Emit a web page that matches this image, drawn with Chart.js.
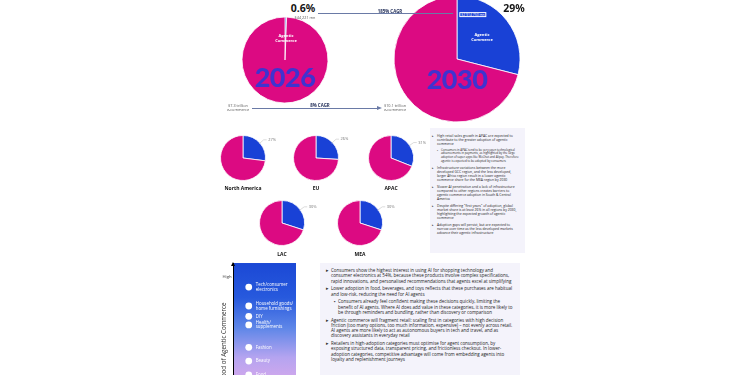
<!DOCTYPE html>
<html>
<head>
<meta charset="utf-8">
<script src="https://cdn.jsdelivr.net/npm/chart.js@4.4.1/dist/chart.umd.min.js"></script>
<style>
  html, body { margin: 0; padding: 0; width: 750px; height: 375px; overflow: hidden; background: #fff; font-family: "Open Sans", sans-serif; }
  canvas { position: absolute; }
  .t { position: absolute; white-space: nowrap; transform: translate(-50%, -50%); text-align: center; }
  .pct { font-family: "Noto Sans"; font-weight: 700; font-size: 10.5px; line-height: 10px; color: #151515; }
  .year { font-family: Lato; font-weight: 900; font-size: 27px; color: rgba(45, 55, 215, 0.9); letter-spacing: -0.5px; }
  .inpie { color: #fff; font-weight: 700; font-size: 4px; line-height: 4.6px; }
  .small { color: #555; font-size: 3.8px; line-height: 4.2px; }
  .cagr { font-weight: 700; font-size: 4.4px; color: #1d2a55; }
  .region { font-weight: 700; font-size: 5px; color: #111; }
  .line { position: absolute; height: 1.4px; background: #6a7aa6; }
  .panel { position: absolute; background: #f4f3fb; box-sizing: border-box; color: #222; }
  .panel div { position: relative; }
  .panel .b::before { content: "\25B8"; position: absolute; left: -5px; color: #333; }
  .panel .s::before { content: "\25AA"; position: absolute; left: -4px; color: #333; }
  #side { left: 430px; top: 128px; width: 95px; height: 125px; padding: 6px 4px 0 7px; font-size: 3.4px; line-height: 4.1px; }
  #side .b { margin-bottom: 2.6px; }
  #side .s { margin-left: 4px; font-size: 2.9px; line-height: 3.6px; margin-bottom: 2.6px; }
  #notes { left: 320px; top: 263px; width: 200px; height: 130px; padding: 5px 5px 0 11px; font-size: 4.5px; line-height: 5.3px; }
  #notes .b { margin-bottom: 2.4px; }
  #notes .s { margin-left: 7px; margin-bottom: 2.4px; }
  .box { position: absolute; border: 0.6px solid #fff; color: #fff; font-size: 3.4px; line-height: 3.8px; padding: 0 1px; transform: translate(-50%, -50%); white-space: nowrap; }
</style>
</head>
<body>

<canvas id="pie2026" width="90" height="90" style="left:240px; top:15px;"></canvas>
<canvas id="pie2030" width="130" height="130" style="left:392px; top:-6px;"></canvas>

<canvas id="pieNA" width="78" height="48" style="left:219px; top:134px;"></canvas>
<canvas id="pieEU" width="78" height="48" style="left:292px; top:134px;"></canvas>
<canvas id="pieAPAC" width="78" height="48" style="left:367px; top:134px;"></canvas>
<canvas id="pieLAC" width="78" height="48" style="left:258px; top:199px;"></canvas>
<canvas id="pieMEA" width="78" height="48" style="left:336px; top:199px;"></canvas>

<canvas id="likelihood" width="79" height="180" style="left:221px; top:259px;"></canvas>

<!-- top headline labels -->
<div class="t pct" style="left:303px; top:7.5px;">0.6%</div>
<div class="t pct" style="left:514px; top:7.5px;">29%</div>
<div class="t small" style="left:305px; top:17.5px;">$44,221 mn</div>
<div class="line" style="left:318px; top:13px; width:135px;"></div>
<div class="t cagr" style="left:390px; top:10.5px;">185% CAGR</div>
<div class="box" style="left:473px; top:14.5px; background:#1941d6;">$2,914,750 mn</div>

<div class="t inpie" style="left:286px; top:39px;">Agentic<br>Commerce</div>
<div class="t inpie" style="left:482px; top:38px;">Agentic<br>Commerce</div>
<div class="t year" style="left:285px; top:76px;">2026</div>
<div class="t year" style="left:457px; top:78px;">2030</div>

<div class="t small" style="left:238px; top:108px;">$7.3 trillion<br>e-commerce</div>
<div class="line" style="left:252px; top:107.5px; width:126px;"></div>
<div style="position:absolute; left:377px; top:105.5px; width:0; height:0; border-top:2.6px solid transparent; border-bottom:2.6px solid transparent; border-left:5px solid #6a7aa6;"></div>
<div class="t cagr" style="left:320px; top:104.5px;">8% CAGR</div>
<div class="t small" style="left:395px; top:108px;">$10.1 trillion<br>e-commerce</div>

<div class="t region" style="left:243px; top:188px;">North America</div>
<div class="t region" style="left:316px; top:188px;">EU</div>
<div class="t region" style="left:391px; top:188px;">APAC</div>
<div class="t region" style="left:282px; top:254px;">LAC</div>
<div class="t region" style="left:360px; top:254px;">MEA</div>

<div class="panel" id="side">
  <div class="b">High retail sales growth in APAC are expected to contribute to the greater adoption of agentic commerce</div>
  <div class="s">Consumers in APAC tend to be very open technological advancements in payments, as highlighted by the large adoption of super apps like WeChat and Alipay. Therefore agentic is expected to be adopted by consumers</div>
  <div class="b">Infrastructure variations between the more developed GCC region, and the less developed, larger Africa region result in a lower agentic commerce share for the MEA region by 2030</div>
  <div class="b">Slower AI penetration and a lack of infrastructure compared to other regions creates barriers to agentic commerce adoption in South &amp; Central America</div>
  <div class="b">Despite differing "first years" of adoption, global market share is at least 26% in all regions by 2030, highlighting the expected growth of agentic commerce</div>
  <div class="b">Adoption gaps will persist, but are expected to narrow over time as the less developed markets advance their agentic infrastructure</div>
</div>

<div class="panel" id="notes">
  <div class="b">Consumers show the highest interest in using AI for shopping technology and consumer electronics at 54%, because these products involve complex specifications, rapid innovations, and personalised recommendations that agents excel at simplifying</div>
  <div class="b">Lower adoption in food, beverages, and toys reflects that these purchases are habitual and low-risk, reducing the need for AI agents</div>
  <div class="s">Consumers already feel confident making these decisions quickly, limiting the benefit of AI agents. Where AI does add value in these categories, it is more likely to be through reminders and bundling, rather than discovery or comparison</div>
  <div class="b">Agentic commerce will fragment retail: scaling first in categories with high decision friction (too many options, too much information, expensive) – not evenly across retail. AI agents are more likely to act as autonomous buyers in tech and travel, and as discovery assistants in everyday retail</div>
  <div class="b">Retailers in high-adoption categories must optimise for agent consumption, by exposing structured data, transparent pricing, and frictionless checkout. In lower-adoption categories, competitive advantage will come from embedding agents into loyalty and replenishment journeys</div>
</div>

<script>
document.addEventListener("DOMContentLoaded", function () {
    const blue = "#1941d6";
    const pink = "#dc0a82";

    // agentic commerce share of e-commerce (%)
    const years = ["2026", "2030"];
    const globalShare = [0.6, 29];

    // regional share by 2030 (%)
    const regions = ["North America", "EU", "APAC", "LAC", "MEA"];
    const regionShare = [27, 26, 31, 30, 30];
    const regionCanvas = ["pieNA", "pieEU", "pieAPAC", "pieLAC", "pieMEA"];

    // likelihood of agentic commerce by category (relative score, 0-100)
    const categories = [
        ["Tech/consumer", "electronics"],
        ["Household goods/", "home furnishings"],
        ["DIY"],
        ["Health/", "supplements"],
        ["Fashion"],
        ["Beauty"],
        ["Food"]
    ];
    const likelihood = [86, 75, 69, 64, 51, 43, 35];

    // percentage label with a short leader line off the agentic slice
    const sliceLabel = {
        id: "sliceLabel",
        afterDraw(chart) {
            const arc = chart.getDatasetMeta(0).data[0];
            const ctx = chart.ctx;
            const mid = (arc.startAngle + arc.endAngle) / 2;
            const x0 = arc.x + Math.cos(mid) * (arc.outerRadius - 1);
            const y0 = arc.y + Math.sin(mid) * (arc.outerRadius - 1);
            const x1 = x0 + Math.cos(mid) * 6;
            const y1 = y0 + Math.sin(mid) * 6;
            ctx.save();
            ctx.strokeStyle = "#c4c4c4";
            ctx.lineWidth = 0.6;
            ctx.beginPath();
            ctx.moveTo(x0, y0);
            ctx.lineTo(x1, y1);
            ctx.lineTo(x1 + 3, y1);
            ctx.stroke();
            ctx.fillStyle = "#777";
            ctx.font = "4px 'Open Sans'";
            ctx.textBaseline = "middle";
            ctx.fillText(chart.data.datasets[0].data[0] + "%", x1 + 4.5, y1);
            ctx.restore();
        }
    };

    function makePie(id, share, radius, padRight, extra) {
        return new Chart(document.getElementById(id), {
            type: "pie",
            data: {
                labels: ["Agentic commerce", "Other e-commerce"],
                datasets: [{
                    data: [share, +(100 - share).toFixed(1)],
                    backgroundColor: [blue, pink],
                    borderColor: "#ffffff",
                    borderWidth: 0.8,
                    radius: radius
                }]
            },
            options: {
                responsive: false,
                animation: false,
                layout: { padding: { right: padRight } },
                plugins: { legend: { display: false }, tooltip: { enabled: false } }
            },
            plugins: extra
        });
    }

    makePie("pie2026", globalShare[0], 43, 0, []);
    makePie("pie2030", globalShare[1], 63, 0, []);
    regions.forEach((r, i) => makePie(regionCanvas[i], regionShare[i], 22.5, 30, [sliceLabel]));

    // gradient band behind the category dots
    const bandFill = {
        id: "bandFill",
        beforeDraw(chart) {
            const { ctx, chartArea: a } = chart;
            const g = ctx.createLinearGradient(0, a.top, 0, a.bottom);
            g.addColorStop(0, "#1b48d5");
            g.addColorStop(0.2, "#2759dd");
            g.addColorStop(0.38, "#5f87e8");
            g.addColorStop(0.55, "#b5a4f0");
            g.addColorStop(0.68, "#d2a8ec");
            g.addColorStop(1, "#eab6e0");
            ctx.save();
            ctx.fillStyle = g;
            ctx.fillRect(a.left, a.top, a.right - a.left, a.bottom - a.top);
            ctx.restore();
        },
        afterDraw(chart) {
            const { ctx, chartArea: a } = chart;
            ctx.save();
            ctx.fillStyle = "#000";
            ctx.beginPath();
            ctx.moveTo(a.left, a.top - 1);
            ctx.lineTo(a.left - 2, a.top + 3);
            ctx.lineTo(a.left + 2, a.top + 3);
            ctx.closePath();
            ctx.fill();
            ctx.restore();
        }
    };

    const dotLabels = {
        id: "dotLabels",
        afterDatasetsDraw(chart) {
            const ctx = chart.ctx;
            ctx.save();
            ctx.fillStyle = "#fff";
            ctx.font = "4.4px 'Open Sans'";
            ctx.textBaseline = "middle";
            chart.getDatasetMeta(0).data.forEach((pt, i) => {
                const lines = categories[i];
                const start = pt.y - (lines.length - 1) * 2.3;
                lines.forEach((ln, j) => ctx.fillText(ln, pt.x + 7, start + j * 4.6));
            });
            ctx.restore();
        }
    };

    new Chart(document.getElementById("likelihood"), {
        type: "scatter",
        data: {
            datasets: [{
                data: likelihood.map(v => ({ x: 0, y: v })),
                pointRadius: 3.4,
                pointBackgroundColor: "#ffffff",
                pointBorderWidth: 0
            }]
        },
        options: {
            responsive: false,
            animation: false,
            layout: { padding: 0 },
            scales: {
                x: { display: false, min: -1, max: 3 },
                y: {
                    min: 0,
                    max: 100,
                    grid: { display: false, drawTicks: false },
                    border: { color: "#000", width: 1 },
                    afterBuildTicks: axis => { axis.ticks = [{ value: 92 }]; },
                    afterFit: scale => { scale.width = 12; },
                    ticks: { callback: () => "High", font: { size: 4.2, family: "Open Sans" }, color: "#333", padding: 1.5 },
                    title: { display: true, text: "Likelihood of Agentic Commerce", font: { size: 6.2, family: "Open Sans" }, color: "#333", padding: 0 }
                }
            },
            plugins: { legend: { display: false }, tooltip: { enabled: false } }
        },
        plugins: [bandFill, dotLabels]
    });
});
</script>
</body>
</html>
